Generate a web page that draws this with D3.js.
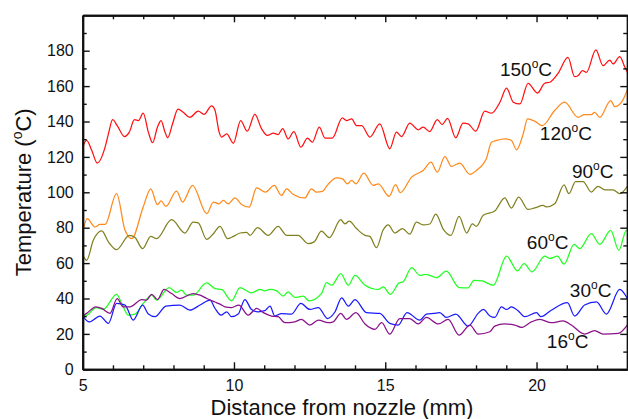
<!DOCTYPE html>
<html><head><meta charset="utf-8">
<script src="https://cdn.jsdelivr.net/npm/d3@7"></script>
<style>
html,body{margin:0;padding:0;background:#fff;}
svg{display:block;}
text{font-family:"Liberation Sans",Arial,sans-serif;fill:#111;}
</style></head>
<body>
<svg id="chart" width="628" height="419"></svg>
<script>
// ---------- data (distance mm, temperature °C) ----------
const xMajorTicks = [5, 10, 15, 20];
const yMajorTicks = [0, 20, 40, 60, 80, 100, 120, 140, 160, 180];

const s150 = [[5.00,125.5],[5.13,129.3],[5.30,123.6],[5.48,116.5],[5.74,125.5],[5.85,133],[5.99,141],[6.14,137.7],[6.38,131.5],[6.54,134],[6.71,141],[6.84,140.5],[7.00,144.7],[7.17,134],[7.31,128],[7.47,136.8],[7.59,140.5],[7.72,134],[7.81,130.8],[7.97,138.7],[8.15,147],[8.32,145.2],[8.54,142.4],[8.82,145.8],[9.01,144],[9.26,148.8],[9.37,146.5],[9.51,134],[9.59,131.2],[9.76,133],[9.98,127.7],[10.22,140.5],[10.44,134.5],[10.69,144],[10.91,136],[11.11,132.1],[11.30,133.4],[11.46,132.6],[11.61,136],[11.79,130.2],[11.98,134.3],[12.21,125.5],[12.43,130.6],[12.59,128.3],[12.82,136.8],[13.01,130.6],[13.25,130.6],[13.58,142],[13.72,140.5],[13.89,141.5],[14.05,137.7],[14.22,137.7],[14.49,131.2],[14.82,138.7],[15.15,124.6],[15.37,134],[15.54,131.5],[15.81,139.1],[16.09,135.3],[16.25,136.8],[16.47,134.3],[16.72,141.1],[16.88,138.3],[17.06,141.7],[17.33,130.8],[17.57,139.1],[17.74,138.7],[17.99,134.5],[18.29,145.8],[18.51,144.7],[18.79,150.9],[19.01,158.9],[19.23,150.9],[19.45,149.9],[19.72,161.6],[20.03,156.1],[20.27,161.6],[20.44,162.2],[20.71,167.2],[21.04,176.2],[21.26,165.3],[21.37,165.9],[21.52,168.7],[21.65,167.8],[21.96,180.4],[22.20,171.5],[22.42,174.7],[22.53,172.5],[22.75,176.6],[22.92,170.6],[23.00,167.8]];

const s120 = [[5.00,77.6],[5.15,85.1],[5.41,80.4],[5.57,81.9],[5.74,81.9],[6.12,99.2],[6.40,78.5],[6.62,73.8],[7.00,91.7],[7.25,102],[7.47,93],[7.59,95.1],[7.75,92],[8.10,100.7],[8.30,94.5],[8.63,103.9],[9.10,87.9],[9.32,94.5],[9.50,93.5],[9.65,95.4],[9.81,93.5],[10.03,96.8],[10.25,93.1],[10.50,91.6],[10.75,102.5],[11.04,100.1],[11.33,103.9],[11.57,98.2],[11.74,102],[11.96,98.8],[12.34,96.8],[12.56,102],[12.73,100.1],[12.92,100.5],[13.11,104.5],[13.39,108.2],[13.59,107.6],[13.75,104.8],[13.89,106.7],[14.03,104.8],[14.29,110.8],[14.60,103.9],[14.77,104.8],[15.13,97.7],[15.34,104.3],[15.50,99.8],[15.87,108.6],[16.25,112.3],[16.51,117],[16.72,111.4],[16.97,120.2],[17.19,114.6],[17.46,116.5],[17.80,110.1],[18.01,112.3],[18.24,116.1],[18.34,119],[18.51,128.3],[18.68,129.3],[18.95,130.2],[19.17,129.3],[19.34,124],[19.56,133],[19.70,141.5],[19.94,140.2],[20.19,137.7],[20.60,146.2],[20.93,150.9],[21.37,142.4],[21.59,143.9],[21.81,143.9],[21.92,145.2],[22.09,142.4],[22.45,151.8],[22.59,148.4],[22.81,150.9],[23.00,157.8]];

const s90 = [[5.00,64.5],[5.13,61.6],[5.35,72.9],[5.63,78.2],[5.85,72],[6.12,67.6],[6.54,75.7],[6.73,74.4],[6.98,68.2],[7.25,75.1],[7.44,73.8],[7.94,84.5],[8.38,77],[8.65,83.2],[8.82,82.7],[9.10,73.4],[9.32,76.6],[9.54,80.8],[9.79,73.8],[9.98,75.1],[10.20,77],[10.42,77.4],[10.53,75.7],[10.78,80],[11.13,75.7],[11.46,80.8],[11.74,75.7],[12.12,75.7],[12.45,71],[12.65,72],[12.89,78],[13.15,74.4],[13.53,84.5],[13.67,82.2],[13.81,83.7],[14.05,79.5],[14.33,75.7],[14.49,75.1],[14.71,68.7],[14.93,78.7],[15.10,81.6],[15.32,77],[15.57,79.5],[15.81,76.3],[16.03,83.1],[16.25,81.6],[16.47,82.1],[16.67,87.6],[16.92,79.1],[17.17,75.7],[17.44,86.4],[17.69,77],[17.88,82.1],[18.01,80.8],[18.24,87],[18.62,89.4],[18.95,96.9],[19.17,91.1],[19.41,97.3],[19.72,90.3],[19.94,91.2],[20.22,92.6],[20.33,91.7],[20.60,93.5],[20.91,104.2],[21.07,99.2],[21.29,106.1],[21.54,106.1],[21.81,100.1],[22.03,103.4],[22.26,101.4],[22.53,101.4],[22.75,99.2],[23.00,103.4]];

const s60 = [[5.00,30.1],[5.15,30.6],[5.44,34.9],[5.68,33.8],[6.12,42.4],[6.29,37.2],[6.51,30.6],[6.73,31.2],[7.00,37.2],[7.28,41.9],[7.44,39.1],[7.86,46.2],[8.10,43.4],[8.27,44.7],[8.43,41.9],[8.65,41.9],[9.10,48.8],[9.37,45.6],[9.59,45.1],[9.92,38.7],[10.20,46.2],[10.58,43.2],[10.86,45.1],[11.02,44.3],[11.19,45.1],[11.41,44.3],[11.63,41.3],[11.79,43.8],[12.01,40.6],[12.29,41.3],[12.48,38.7],[12.89,42.8],[13.06,49],[13.23,47.5],[13.53,54.1],[13.78,47.5],[14.00,53],[14.33,47.5],[14.77,45.1],[14.93,46.6],[15.17,42.4],[15.46,48.8],[15.59,49.4],[15.87,57.4],[16.14,53.1],[16.34,53.7],[16.69,51.8],[17.02,55.4],[17.44,46.2],[17.74,46],[17.93,50.3],[18.21,49.9],[18.40,48.5],[18.57,47.5],[19.01,63.9],[19.37,55.6],[19.59,59.7],[19.85,55],[20.27,63.9],[20.44,62.6],[20.69,63.9],[20.91,59.4],[21.24,70.6],[21.43,68.2],[21.81,76.6],[22.09,70.6],[22.45,78.5],[22.72,67.2],[22.97,78.5],[23.00,78]];

const s30 = [[5.00,30.1],[5.22,26.8],[5.57,30.1],[5.85,25.9],[6.12,37.2],[6.40,36.3],[6.67,27.8],[6.98,36.3],[7.17,31.2],[7.39,29.7],[7.75,35.7],[8.21,36.3],[8.54,33.4],[8.88,36.3],[9.21,39.1],[9.37,34.5],[9.57,30.6],[9.76,32.5],[9.92,29.7],[10.14,31.2],[10.36,39.4],[10.58,33.8],[10.80,32.5],[11.02,33.1],[11.19,35.7],[11.35,30.1],[11.57,31.5],[11.90,31.2],[12.21,37.2],[12.51,33.8],[12.79,34.9],[13.09,28.7],[13.34,32.5],[13.56,40.4],[13.78,35.7],[14.00,39.4],[14.38,32],[14.82,31.6],[15.15,25.9],[15.43,25],[15.72,32],[16.14,27.8],[16.36,31.2],[16.61,31.6],[16.80,32],[17.02,29.3],[17.33,31.2],[17.74,24.4],[18.07,31.6],[18.24,33.8],[18.46,30.1],[18.62,29.3],[18.84,35.3],[19.01,33.8],[19.17,35.3],[19.39,33.1],[19.61,29.7],[20.00,32],[20.14,29.7],[20.49,33.4],[21.02,37.6],[21.26,30.1],[21.59,36.3],[21.98,38.1],[22.31,31.2],[22.75,45.1],[23.00,40]];

const s16 = [[5.00,30.1],[5.13,31.6],[5.44,35.3],[5.63,34.4],[5.90,31.6],[6.14,40],[6.34,35.3],[6.56,35.3],[6.95,39.4],[7.11,39.1],[7.28,42.4],[7.47,39.4],[7.69,45.1],[7.94,42.8],[8.21,40],[8.65,42.8],[8.88,41.9],[9.10,40],[9.37,38],[9.54,36.8],[9.70,35.3],[9.92,34.9],[10.16,36.3],[10.47,30.6],[10.75,34.4],[10.97,32],[11.24,30.1],[11.46,29.7],[11.68,26.3],[12.01,26.8],[12.23,28.2],[12.51,25],[12.79,27.8],[13.11,26.3],[13.28,26.8],[13.53,31.6],[13.72,28.2],[14.03,32],[14.33,25.6],[14.66,22.6],[14.88,26.3],[15.15,19.9],[15.48,28.7],[15.81,28.7],[16.09,25.6],[16.36,29.3],[16.75,25.6],[17.08,28.2],[17.44,19.3],[17.80,25],[18.07,19.9],[18.46,21.2],[18.62,24.4],[18.95,25.6],[19.28,25],[19.50,23.7],[19.83,26.8],[20.11,28.2],[20.49,26.3],[20.88,27.4],[21.15,25],[21.59,19.9],[21.92,21.8],[22.20,19.9],[22.70,20.3],[23.00,25]];

const seriesNames = ["150", "120", "90", "60", "30", "16"];
const seriesData = [s150, s120, s90, s60, s30, s16];
const seriesColors = ["#ff1010", "#ff8a1c", "#808020", "#22ff22", "#1a1aff", "#8a108a"];
// label anchor positions (start of text, baseline) in data units (mm, °C)
const labelPos = [[18.79,165.7],[20.11,129.5],[21.17,108.1],[19.68,68.0],[21.10,40.8],[20.34,12.0]];

// ---------- layout ----------
const svg = d3.select("#chart");
const L = 82.7, R = 627.3, T = 15.3, B = 369.3;
const x = d3.scaleLinear().domain([5, 23]).range([L, R]);
const y = d3.scaleLinear().domain([0, 200]).range([B, T]);

const font = '"Liberation Sans",Arial,sans-serif';

// lines
const line = d3.line().x(d => x(d[0])).y(d => y(d[1])).curve(d3.curveMonotoneX);
const gLines = svg.append("g");
seriesData.forEach((s, i) => {
  gLines.append("path").datum(s).attr("d", line)
    .attr("fill", "none").attr("stroke", seriesColors[i]).attr("stroke-width", 1.25)
    .attr("stroke-linejoin", "round");
});

// axes
const xMinor = d3.range(5, 24, 1).filter(v => !xMajorTicks.includes(v));
const yMinor = d3.range(10, 200, 20);

function styleAxis(g) {
  g.selectAll("path.domain").attr("stroke", "#111").attr("stroke-width", 2);
  g.selectAll(".tick line").attr("stroke", "#111").attr("stroke-width", 1.4);
  g.selectAll(".tick text").attr("font-family", font).attr("font-size", 16).attr("fill", "#111");
}

svg.append("g").attr("transform", `translate(0,${B})`)
  .call(d3.axisBottom(x).tickValues(xMajorTicks).tickSize(-7).tickSizeOuter(0).tickPadding(10).tickFormat(d3.format("d")))
  .call(styleAxis);
svg.append("g").attr("transform", `translate(0,${B})`)
  .call(d3.axisBottom(x).tickValues(xMinor).tickSize(-4).tickSizeOuter(0).tickFormat(""))
  .call(styleAxis);
svg.append("g").attr("transform", `translate(0,${T})`)
  .call(d3.axisTop(x).tickValues(xMajorTicks).tickSize(-7).tickSizeOuter(0).tickFormat(""))
  .call(styleAxis);
svg.append("g").attr("transform", `translate(0,${T})`)
  .call(d3.axisTop(x).tickValues(xMinor).tickSize(-4).tickSizeOuter(0).tickFormat(""))
  .call(styleAxis);
svg.append("g").attr("transform", `translate(${L},0)`)
  .call(d3.axisLeft(y).tickValues(yMajorTicks).tickSize(-7).tickSizeOuter(0).tickPadding(9).tickFormat(d3.format("d")))
  .call(styleAxis);
svg.append("g").attr("transform", `translate(${L},0)`)
  .call(d3.axisLeft(y).tickValues(yMinor).tickSize(-4).tickSizeOuter(0).tickFormat(""))
  .call(styleAxis);
svg.append("g").attr("transform", `translate(${R},0)`)
  .call(d3.axisRight(y).tickValues(yMajorTicks).tickSize(-7).tickSizeOuter(0).tickFormat(""))
  .call(styleAxis);
svg.append("g").attr("transform", `translate(${R},0)`)
  .call(d3.axisRight(y).tickValues(yMinor).tickSize(-4).tickSizeOuter(0).tickFormat(""))
  .call(styleAxis);

// degree-style labels
function degText(sel, prefix, suffix, size) {
  const sup = Math.round(size * 0.62);
  const up = Math.round(size * 0.42);
  sel.append("tspan").text(prefix);
  sel.append("tspan").text("o").attr("font-size", sup).attr("dy", -up);
  sel.append("tspan").text(suffix).attr("dy", up);
}

seriesNames.forEach((n, i) => {
  const t = svg.append("text")
    .attr("x", x(labelPos[i][0])).attr("y", y(labelPos[i][1]))
    .attr("font-family", font).attr("font-size", 19).attr("fill", "#111");
  degText(t, n, "C", 19);
});

// axis titles
svg.append("text").attr("x", 342).attr("y", 415)
  .attr("text-anchor", "middle").attr("font-family", font).attr("font-size", 22).attr("fill", "#111")
  .text("Distance from nozzle (mm)");

const yt = svg.append("text")
  .attr("transform", `translate(31,${(T + B) / 2}) rotate(-90)`)
  .attr("text-anchor", "middle").attr("font-family", font).attr("font-size", 22).attr("fill", "#111");
degText(yt, "Temperature (", "C)", 22);
</script>
</body></html>
